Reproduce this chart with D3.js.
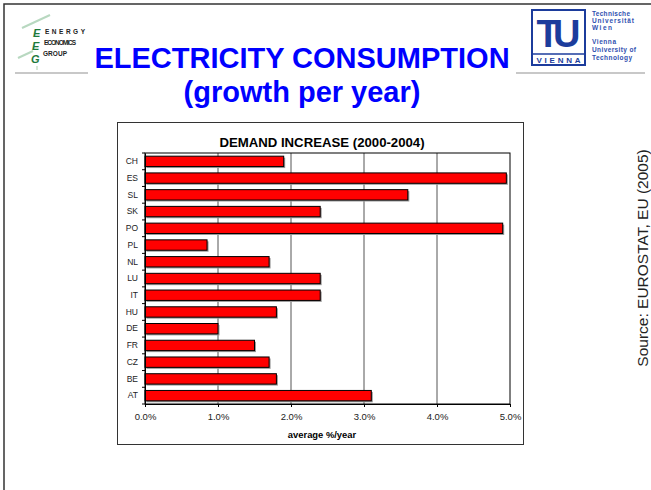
<!DOCTYPE html>
<html>
<head>
<meta charset="utf-8">
<script src="https://cdn.jsdelivr.net/npm/d3@7"></script>
<style>
  body { margin: 0; background: #fff; }
  svg { display: block; font-family: Arial, "Liberation Sans", sans-serif; }
</style>
</head>
<body>
<div id="slide"></div>
<script>
// Demand increase 2000-2004, average %/year
const countries = ["CH", "ES", "SL", "SK", "PO", "PL", "NL", "LU", "IT", "HU", "DE", "FR", "CZ", "BE", "AT"];
const growth = [1.9, 4.95, 3.6, 2.4, 4.9, 0.85, 1.7, 2.4, 2.4, 1.8, 1.0, 1.5, 1.7, 1.8, 3.1];
const xTicks = [0, 1, 2, 3, 4, 5];

const W = 651, H = 490;
const svg = d3.select("#slide").append("svg").attr("width", W).attr("height", H);

// slide frame (left + top)
svg.append("path").attr("d", `M4,${H} L4,4 L${W},4`)
    .attr("fill", "none").attr("stroke", "#333").attr("stroke-width", 1.5);

// grey rules under the logos
svg.append("line").attr("x1", 15).attr("x2", 88).attr("y1", 73).attr("y2", 73)
    .attr("stroke", "#c8c8c8").attr("stroke-width", 2);
svg.append("line").attr("x1", 516).attr("x2", 645).attr("y1", 73).attr("y2", 73)
    .attr("stroke", "#c8c8c8").attr("stroke-width", 2);

// EEG logo (left)
const eeg = svg.append("g");
eeg.append("line").attr("x1", 22).attr("y1", 28).attr("x2", 50).attr("y2", 15)
    .attr("stroke", "#b8d8c0").attr("stroke-width", 2);
eeg.append("line").attr("x1", 18).attr("y1", 58).attr("x2", 33).attr("y2", 51)
    .attr("stroke", "#b8d8c0").attr("stroke-width", 2);
eeg.append("line").attr("x1", 37).attr("y1", 70).attr("x2", 37).attr("y2", 66)
    .attr("stroke", "#c8e0c8").attr("stroke-width", 1.5);
["E", "E", "G"].forEach((t, i) => {
    eeg.append("text").attr("x", 33 - i).attr("y", 37 + i * 13)
        .attr("font-size", 11).attr("font-weight", "bold").attr("font-style", "italic")
        .attr("fill", "#1e7a3c").text(t);
});
["ENERGY", "ECONOMICS", "GROUP"].forEach((t, i) => {
    eeg.append("text").attr("x", 45 - i).attr("y", 34 + i * 11)
        .attr("font-size", 6.5).attr("font-weight", "bold").attr("fill", "#222")
        .attr("textLength", 40 - i * 8).text(t);
});

// TU Vienna logo (right)
const tu = svg.append("g");
tu.append("rect").attr("x", 532).attr("y", 10).attr("width", 53).attr("height", 55)
    .attr("fill", "#fff").attr("stroke", "#1c3c9c").attr("stroke-width", 2);
tu.append("line").attr("x1", 532).attr("x2", 585).attr("y1", 54).attr("y2", 54)
    .attr("stroke", "#1c3c9c").attr("stroke-width", 1.5);
tu.append("text").attr("x", 558.5).attr("y", 47).attr("text-anchor", "middle")
    .attr("font-size", 38).attr("font-weight", "bold").attr("fill", "#1c3c9c")
    .attr("textLength", 44).text("TU");
tu.append("text").attr("x", 558.5).attr("y", 63).attr("text-anchor", "middle")
    .attr("font-size", 8).attr("font-weight", "bold").attr("fill", "#1c3c9c")
    .attr("textLength", 44).text("VIENNA");
const tuText = [["Technische", 16, 38], ["Universität", 23, 42], ["Wien", 30, 20],
                ["Vienna", 44, 24], ["University of", 52, 44], ["Technology", 60, 40]];
tuText.forEach(([t, y, len]) => {
    tu.append("text").attr("x", 592).attr("y", y).attr("font-size", 6.5)
        .attr("font-weight", "bold").attr("fill", "#3050b0")
        .attr("textLength", len).text(t);
});

// main title
svg.append("text").attr("x", 302).attr("y", 68).attr("text-anchor", "middle")
    .attr("font-size", 29).attr("font-weight", "bold").attr("fill", "#0000ff")
    .text("ELECTRICITY CONSUMPTION");
svg.append("text").attr("x", 302).attr("y", 102).attr("text-anchor", "middle")
    .attr("font-size", 29).attr("font-weight", "bold").attr("fill", "#0000ff")
    .text("(growth per year)");

// source
svg.append("text").attr("transform", "translate(648,258) rotate(-90)")
    .attr("text-anchor", "middle").attr("font-size", 15.5).attr("fill", "#222")
    .text("Source: EUROSTAT, EU (2005)");

// chart box
svg.append("rect").attr("x", 117.5).attr("y", 122.5).attr("width", 406).attr("height", 322)
    .attr("fill", "#fff").attr("stroke", "#333").attr("stroke-width", 1);

svg.append("text").attr("x", 322).attr("y", 147).attr("text-anchor", "middle")
    .attr("font-size", 13.2).attr("font-weight", "bold").attr("fill", "#000")
    .text("DEMAND INCREASE (2000-2004)");

const plot = { left: 145, right: 510, top: 153, bottom: 404 };
const x = d3.scaleLinear().domain([0, 5]).range([plot.left, plot.right]);
const y = d3.scaleBand().domain(countries).range([plot.top, plot.bottom])
    .paddingInner(0.38).paddingOuter(0.19);

const g = svg.append("g");

// grid lines
g.selectAll(".grid").data(xTicks.slice(1, -1)).enter().append("line")
    .attr("x1", d => x(d)).attr("x2", d => x(d))
    .attr("y1", plot.top).attr("y2", plot.bottom)
    .attr("stroke", "#555").attr("stroke-width", 1);

// plot border
g.append("rect").attr("x", plot.left).attr("y", plot.top)
    .attr("width", plot.right - plot.left).attr("height", plot.bottom - plot.top)
    .attr("fill", "none").attr("stroke", "#000").attr("stroke-width", 1);

// bars with a light shadow
const data = countries.map((c, i) => ({ c, v: growth[i] }));
g.selectAll(".shadow").data(data).enter().append("rect")
    .attr("x", x(0) + 1.5).attr("y", d => y(d.c) + 1.5)
    .attr("width", d => x(d.v) - x(0)).attr("height", y.bandwidth())
    .attr("fill", "#999");
g.selectAll(".bar").data(data).enter().append("rect")
    .attr("x", x(0)).attr("y", d => y(d.c))
    .attr("width", d => x(d.v) - x(0)).attr("height", y.bandwidth())
    .attr("fill", "#ff0000").attr("stroke", "#000").attr("stroke-width", 1);

// y axis: labels centred on bands, ticks at band edges
const yAxis = g.append("g").attr("transform", `translate(${plot.left},0)`)
    .call(d3.axisLeft(y).tickSize(0).tickPadding(7));
yAxis.select(".domain").attr("stroke", "#000");
yAxis.selectAll("text").attr("font-size", 8.5).attr("fill", "#222")
    .attr("font-family", "Arial, 'Liberation Sans', sans-serif");
const edges = countries.map(c => y(c) - (y.step() - y.bandwidth()) / 2).concat([plot.bottom]);
g.selectAll(".ytick").data(edges).enter().append("line")
    .attr("x1", plot.left - 3).attr("x2", plot.left)
    .attr("y1", d => d).attr("y2", d => d).attr("stroke", "#000");

// x axis
const xAxis = g.append("g").attr("transform", `translate(0,${plot.bottom})`)
    .call(d3.axisBottom(x).tickValues(xTicks).tickSize(3).tickPadding(6)
        .tickFormat(d => d.toFixed(1) + "%"));
xAxis.select(".domain").attr("stroke", "#000");
xAxis.selectAll("text").attr("font-size", 9.5).attr("fill", "#222")
    .attr("font-family", "Arial, 'Liberation Sans', sans-serif");

svg.append("text").attr("x", 322).attr("y", 438).attr("text-anchor", "middle")
    .attr("font-size", 9.4).attr("font-weight", "bold").attr("fill", "#000")
    .text("average %/year");
</script>
</body>
</html>
